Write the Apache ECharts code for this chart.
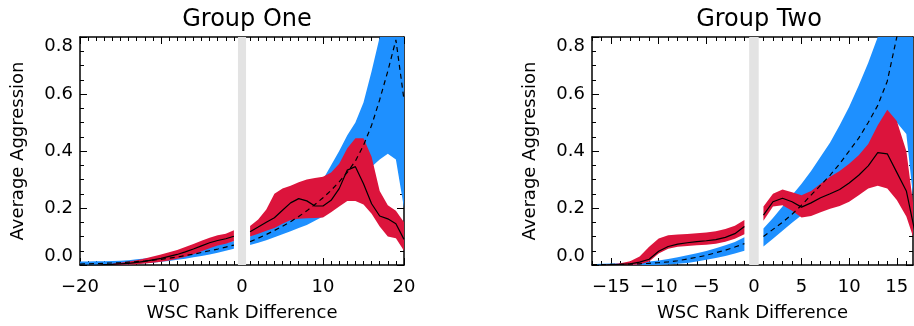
<!DOCTYPE html>
<html>
<head>
<meta charset="utf-8">
<title>Average Aggression vs WSC Rank Difference</title>
<script src="https://cdn.jsdelivr.net/npm/echarts@6/dist/echarts.min.js"></script>
<style>
  html, body { margin: 0; padding: 0; background: #fff; }
  #chart { width: 914px; height: 326px; }
</style>
</head>
<body>
<div id="chart"></div>
<script>
// ---- Group One (x: -20..-1 and 1..20) ----
const g1xNeg = [-20, -19, -18, -17, -16, -15, -14, -13, -12, -11, -10, -9, -8, -7, -6, -5, -4, -3, -2, -1];
const g1xPos = [1, 2, 3, 4, 5, 6, 7, 8, 9, 10, 11, 12, 13, 14, 15, 16, 17, 18, 19, 20];
const g1BlueLoNeg = [0.000, 0.000, 0.000, 0.001, 0.001, 0.002, 0.003, 0.004, 0.006, 0.008, 0.011, 0.014, 0.018, 0.022, 0.027, 0.032, 0.037, 0.043, 0.050, 0.057];
const g1BlueHiNeg = [0.012, 0.012, 0.013, 0.013, 0.014, 0.015, 0.017, 0.020, 0.023, 0.026, 0.030, 0.034, 0.039, 0.044, 0.050, 0.056, 0.063, 0.070, 0.077, 0.084];
const g1ModelNeg  = [0.003, 0.004, 0.005, 0.006, 0.007, 0.008, 0.010, 0.012, 0.014, 0.017, 0.020, 0.024, 0.028, 0.033, 0.038, 0.044, 0.050, 0.056, 0.063, 0.070];
const g1RedLoNeg  = [0.000, 0.000, 0.000, 0.000, 0.000, 0.001, 0.002, 0.003, 0.005, 0.008, 0.011, 0.016, 0.022, 0.029, 0.038, 0.048, 0.059, 0.068, 0.075, 0.084];
const g1RedHiNeg  = [0.000, 0.000, 0.000, 0.001, 0.004, 0.008, 0.012, 0.017, 0.023, 0.030, 0.037, 0.045, 0.053, 0.063, 0.074, 0.085, 0.096, 0.104, 0.110, 0.122];
const g1MeanNeg   = [0.000, 0.000, 0.000, 0.001, 0.002, 0.004, 0.006, 0.009, 0.013, 0.018, 0.023, 0.030, 0.037, 0.046, 0.056, 0.067, 0.078, 0.086, 0.092, 0.101];
const g1BlueLoPos = [0.070, 0.078, 0.087, 0.097, 0.108, 0.118, 0.130, 0.140, 0.155, 0.170, 0.190, 0.215, 0.245, 0.280, 0.310, 0.345, 0.370, 0.390, 0.370, 0.200];
const g1BlueHiPos = [0.100, 0.115, 0.130, 0.150, 0.170, 0.190, 0.215, 0.240, 0.270, 0.300, 0.350, 0.400, 0.455, 0.500, 0.570, 0.680, 0.800, 0.950, 1.100, 1.200];
const g1ModelPos  = [0.082, 0.094, 0.107, 0.121, 0.136, 0.152, 0.170, 0.190, 0.212, 0.236, 0.262, 0.292, 0.325, 0.365, 0.420, 0.490, 0.580, 0.680, 0.790, 0.580];
const g1RedLoPos  = [0.100, 0.110, 0.120, 0.130, 0.145, 0.158, 0.162, 0.164, 0.165, 0.167, 0.185, 0.205, 0.225, 0.225, 0.212, 0.180, 0.135, 0.100, 0.094, 0.050];
const g1RedHiPos  = [0.137, 0.160, 0.195, 0.250, 0.268, 0.278, 0.290, 0.300, 0.305, 0.310, 0.325, 0.355, 0.410, 0.445, 0.445, 0.380, 0.260, 0.210, 0.190, 0.150];
const g1MeanPos   = [0.117, 0.133, 0.150, 0.166, 0.192, 0.218, 0.233, 0.225, 0.207, 0.207, 0.227, 0.268, 0.333, 0.345, 0.285, 0.215, 0.172, 0.162, 0.145, 0.090];

// ---- Group Two (x: -17..-1 and 1..17) ----
const g2xNeg = [-17, -16, -15, -14, -13, -12, -11, -10, -9, -8, -7, -6, -5, -4, -3, -2, -1];
const g2xPos = [1, 2, 3, 4, 5, 6, 7, 8, 9, 10, 11, 12, 13, 14, 15, 16, 17];
const g2BlueLoNeg = [0.000, 0.000, 0.000, 0.000, 0.000, 0.000, 0.000, 0.000, 0.002, 0.004, 0.007, 0.012, 0.018, 0.025, 0.032, 0.040, 0.050];
const g2BlueHiNeg = [0.003, 0.004, 0.005, 0.006, 0.007, 0.009, 0.012, 0.016, 0.021, 0.027, 0.034, 0.041, 0.049, 0.059, 0.069, 0.081, 0.097];
const g2ModelNeg  = [0.001, 0.001, 0.002, 0.002, 0.003, 0.004, 0.006, 0.008, 0.011, 0.015, 0.021, 0.027, 0.034, 0.043, 0.052, 0.063, 0.075];
const g2RedLoNeg  = [0.000, 0.000, 0.000, 0.000, 0.000, 0.002, 0.012, 0.040, 0.057, 0.064, 0.067, 0.069, 0.071, 0.075, 0.082, 0.092, 0.108];
const g2RedHiNeg  = [0.000, 0.000, 0.003, 0.006, 0.013, 0.030, 0.064, 0.093, 0.104, 0.107, 0.109, 0.111, 0.114, 0.118, 0.126, 0.138, 0.158];
const g2MeanNeg   = [0.000, 0.000, 0.001, 0.002, 0.004, 0.010, 0.020, 0.048, 0.065, 0.073, 0.078, 0.082, 0.085, 0.089, 0.097, 0.110, 0.135];
const g2BlueLoPos = [0.065, 0.092, 0.120, 0.148, 0.175, 0.200, 0.225, 0.250, 0.280, 0.310, 0.340, 0.380, 0.420, 0.460, 0.500, 0.460, 0.150];
const g2BlueHiPos = [0.128, 0.165, 0.205, 0.245, 0.285, 0.330, 0.380, 0.430, 0.490, 0.555, 0.630, 0.710, 0.800, 0.900, 1.000, 1.100, 1.200];
const g2ModelPos  = [0.100, 0.125, 0.150, 0.178, 0.210, 0.245, 0.280, 0.315, 0.355, 0.400, 0.445, 0.500, 0.560, 0.645, 0.800, 1.000, 1.200];
const g2RedLoPos  = [0.155, 0.205, 0.210, 0.190, 0.167, 0.172, 0.185, 0.197, 0.207, 0.222, 0.245, 0.268, 0.278, 0.268, 0.228, 0.170, 0.070];
const g2RedHiPos  = [0.205, 0.250, 0.265, 0.255, 0.245, 0.260, 0.285, 0.310, 0.330, 0.355, 0.385, 0.425, 0.490, 0.545, 0.505, 0.400, 0.140];
const g2MeanPos   = [0.175, 0.222, 0.234, 0.222, 0.203, 0.218, 0.236, 0.250, 0.265, 0.288, 0.315, 0.348, 0.394, 0.390, 0.325, 0.260, 0.100];

// ticks for the Group Two x axis (its range starts at -17)
const g2MajorTicks = [-15, -10, -5, 0, 5, 10, 15];
const g2MinorTicks = [];
for (let v = -17; v <= 16; v++) g2MinorTicks.push(v);

const gapBand = [-0.5, 0.5];

const FONT = 'DejaVu Sans';
const BLUE = '#1e90ff';
const RED = '#dc143c';

const chart = echarts.init(document.getElementById('chart'));

const minus = v => String(v).replace('-', '\u2212');

function xAxisDef(grid, pos, min, max, extra) {
  return Object.assign({
    type: 'value', gridIndex: grid, position: pos, min, max,
    axisLine: { show: true, onZero: false, lineStyle: { color: '#000', width: 1.5 } },
    axisTick: { show: true, inside: true, length: 7, lineStyle: { color: '#000', width: 1 } },
    axisLabel: { show: false },
    splitLine: { show: false }
  }, extra);
}

function yAxisDef(grid, pos, showLabels) {
  return {
    type: 'value', gridIndex: grid, position: pos, min: 0, max: 0.8, interval: 0.2,
    axisLine: { show: true, onZero: false, lineStyle: { color: '#000', width: 1.5 } },
    axisTick: { show: true, inside: true, length: 7, lineStyle: { color: '#000', width: 1 } },
    minorTick: { show: true, splitNumber: 4, length: 4, lineStyle: { color: '#000', width: 1 } },
    axisLabel: {
      show: showLabels, margin: 7, color: '#000', fontFamily: FONT, fontSize: 18,
      formatter: v => v.toFixed(1),
      verticalAlignMinLabel: 'bottom', verticalAlignMaxLabel: 'top'
    },
    splitLine: { show: false },
    name: showLabels ? 'Average Aggression' : '',
    nameLocation: 'middle', nameGap: 53,
    nameTextStyle: { color: '#000', fontFamily: FONT, fontSize: 18 }
  };
}

const xName = {
  name: 'WSC Rank Difference', nameLocation: 'middle', nameGap: 39,
  nameTextStyle: { color: '#000', fontFamily: FONT, fontSize: 18 }
};
const xLabel = { show: true, margin: 13, color: '#000', fontFamily: FONT, fontSize: 18, formatter: minus };

// polygon between the lo (dim 1) and hi (dim 2) columns of the series data
function bandItem(params, api) {
  if (params.dataIndexInside !== 0) return null;
  const n = params.dataInsideLength;
  const top = [], bot = [];
  for (let j = 0; j < n; j++) {
    top.push(api.coord([api.value(0, j), api.value(2, j)]));
    bot.unshift(api.coord([api.value(0, j), api.value(1, j)]));
  }
  return { type: 'polygon', shape: { points: top.concat(bot) }, style: { fill: api.visual('color') } };
}

function band(xs, lo, hi, color, xi, yi) {
  return {
    type: 'custom', xAxisIndex: xi, yAxisIndex: yi, clip: true, silent: true,
    itemStyle: { color },
    encode: { x: 0, y: [1, 2] },
    data: xs.map((x, i) => [x, lo[i], hi[i]]),
    renderItem: bandItem
  };
}

function line(xs, ys, dashed, xi, yi, mark) {
  const s = {
    type: 'line', xAxisIndex: xi, yAxisIndex: yi, symbol: 'none', silent: true, clip: true,
    lineStyle: { color: '#000', width: 1.2, type: dashed ? [5, 4] : 'solid' },
    data: xs.map((x, i) => [x, ys[i]])
  };
  if (mark) {
    s.markArea = {
      silent: true,
      itemStyle: { color: '#e3e3e3' },
      data: [[{ xAxis: gapBand[0] }, { xAxis: gapBand[1] }]]
    };
  }
  return s;
}

const titleStyle = { fontFamily: FONT, fontSize: 24, fontWeight: 'normal', color: '#000' };

const option = {
  animation: false,
  backgroundColor: '#fff',
  title: [
    { text: 'Group One', left: 242, top: 3, textAlign: 'center', textStyle: titleStyle },
    { text: 'Group Two', left: 754, top: 3, textAlign: 'center', textStyle: titleStyle }
  ],
  grid: [
    { left: 80, top: 37, width: 324, height: 228, outerBoundsMode: 'none' },
    { left: 592, top: 37, width: 321, height: 228, outerBoundsMode: 'none' }
  ],
  xAxis: [
    // Group One: bottom and top
    xAxisDef(0, 'bottom', -20, 20, Object.assign({
      interval: 10,
      minorTick: { show: true, splitNumber: 10, length: 4, lineStyle: { color: '#000', width: 1 } },
      axisLabel: xLabel
    }, xName)),
    xAxisDef(0, 'top', -20, 20, {
      interval: 10,
      minorTick: { show: true, splitNumber: 10, length: 4, lineStyle: { color: '#000', width: 1 } }
    }),
    // Group Two: bottom major, bottom minor, top major, top minor
    xAxisDef(1, 'bottom', -17, 16.7, Object.assign({
      axisTick: { show: true, inside: true, length: 7, customValues: g2MajorTicks, lineStyle: { color: '#000', width: 1 } },
      axisLabel: Object.assign({ customValues: g2MajorTicks }, xLabel)
    }, xName)),
    xAxisDef(1, 'bottom', -17, 16.7, {
      axisLine: { show: false, onZero: false },
      axisTick: { show: true, inside: true, length: 4, customValues: g2MinorTicks, lineStyle: { color: '#000', width: 1 } }
    }),
    xAxisDef(1, 'top', -17, 16.7, {
      axisTick: { show: true, inside: true, length: 7, customValues: g2MajorTicks, lineStyle: { color: '#000', width: 1 } }
    }),
    xAxisDef(1, 'top', -17, 16.7, {
      axisLine: { show: false, onZero: false },
      axisTick: { show: true, inside: true, length: 4, customValues: g2MinorTicks, lineStyle: { color: '#000', width: 1 } }
    })
  ],
  yAxis: [
    yAxisDef(0, 'left', true),
    yAxisDef(0, 'right', false),
    yAxisDef(1, 'left', true),
    yAxisDef(1, 'right', false)
  ],
  series: [
    // Group One
    band(g1xNeg, g1BlueLoNeg, g1BlueHiNeg, BLUE, 0, 0),
    band(g1xPos, g1BlueLoPos, g1BlueHiPos, BLUE, 0, 0),
    band(g1xNeg, g1RedLoNeg, g1RedHiNeg, RED, 0, 0),
    band(g1xPos, g1RedLoPos, g1RedHiPos, RED, 0, 0),
    line(g1xNeg, g1ModelNeg, true, 0, 0, true),
    line(g1xPos, g1ModelPos, true, 0, 0),
    line(g1xNeg, g1MeanNeg, false, 0, 0),
    line(g1xPos, g1MeanPos, false, 0, 0),
    // Group Two
    band(g2xNeg, g2BlueLoNeg, g2BlueHiNeg, BLUE, 2, 2),
    band(g2xPos, g2BlueLoPos, g2BlueHiPos, BLUE, 2, 2),
    band(g2xNeg, g2RedLoNeg, g2RedHiNeg, RED, 2, 2),
    band(g2xPos, g2RedLoPos, g2RedHiPos, RED, 2, 2),
    line(g2xNeg, g2ModelNeg, true, 2, 2, true),
    line(g2xPos, g2ModelPos, true, 2, 2),
    line(g2xNeg, g2MeanNeg, false, 2, 2),
    line(g2xPos, g2MeanPos, false, 2, 2)
  ]
};

chart.setOption(option);
</script>
</body>
</html>
